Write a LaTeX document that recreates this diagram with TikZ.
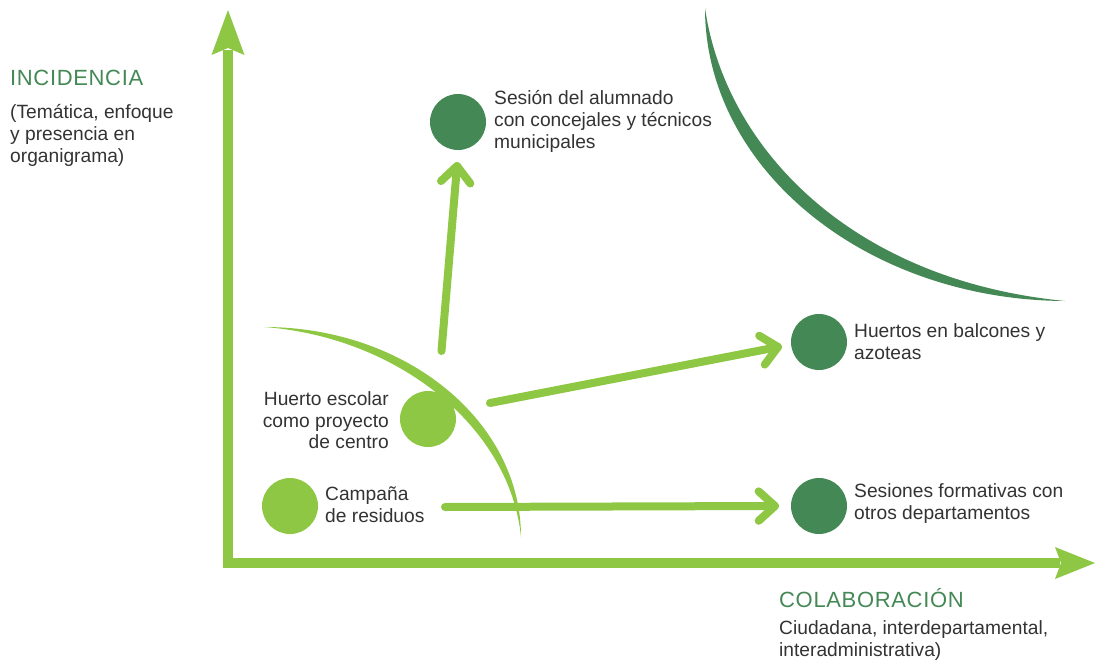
\documentclass[tikz,border=0pt]{standalone}
\usepackage{fontspec}
\setmainfont{Liberation Sans}
\usetikzlibrary{calc}
\definecolor{lgreen}{HTML}{8DC743}
\definecolor{dgreen}{HTML}{448855}
\definecolor{txtgray}{HTML}{333333}
\newfontfamily\headfont[LetterSpace=3]{Liberation Sans}
\begin{document}
\begin{tikzpicture}[x=1pt,y=-1pt,
  txt/.style={inner sep=0pt, text=txtgray, font=\fontsize{19.2}{23}\selectfont},
  head/.style={inner sep=0pt, text=dgreen, font=\headfont\fontsize{22}{26}\selectfont},
  dot/.style={circle, minimum size=56pt, inner sep=0pt},
  ldot/.style={dot, fill=lgreen},
  ddot/.style={dot, fill=dgreen},
  conn/.style={draw=lgreen, line width=8pt, line cap=round, line join=round},
  axisline/.style={draw=lgreen, line width=9.5pt, line join=miter},
  tipfill/.style={fill=lgreen}
]
\useasboundingbox (0,0) rectangle (1096,662);

% background curves
\fill[dgreen] (705,8) .. controls (705,169) and (866,300) .. (1065,301)
  .. controls (850,280) and (725,147) .. (705,8) -- cycle;
\fill[lgreen] (264,327) .. controls (406,327) and (521,421) .. (521,537)
  .. controls (510,427) and (398,337) .. (264,327) -- cycle;

% axes
\coordinate (org) at (228,563);
\coordinate (ytip) at (228,10);
\coordinate (xtip) at (1095,563);
\coordinate (ybase) at (228,50);
\coordinate (xbase) at (1060,563);
\draw[axisline] (ybase) -- (org) -- (xbase);
\fill[tipfill] (ytip) -- (244.5,55) -- (228,48) -- (211.5,55) -- cycle;
\fill[tipfill] (xtip) -- (1055,547) -- (1061,563) -- (1055,579) -- cycle;

% circles
\node[ddot] (c1) at (458,122) {};
\node[ddot] (c2) at (819,342) {};
\node[ddot] (c3) at (819,506) {};
\node[ldot] (c4) at (428,419) {};
\node[ldot] (c5) at (290,506) {};

% arrows
\coordinate (a1s) at (441.5,351);
\coordinate (a1e) at (457,166);
\coordinate (a2s) at (490,403);
\coordinate (a2e) at (778,347);
\coordinate (a3s) at (445,507);
\coordinate (a3e) at (775,506);
\foreach \s/\e in {a1s/a1e,a2s/a2e,a3s/a3e}{
  \draw[conn] (\s) -- (\e);
  \draw[conn] ($(\e)!22pt!42:(\s)$) -- (\e) -- ($(\e)!22pt!-42:(\s)$);
}

% texts
\node[head, anchor=base west] (inc) at (10,85) {INCIDENCIA};
\node[txt, anchor=base west] (inc1) at (10,118) {(Temática, enfoque};
\node[txt, anchor=base west] (inc2) at (10,140) {y presencia en};
\node[txt, anchor=base west] (inc3) at (10,162) {organigrama)};

\node[txt, anchor=base west] (s1) at (494,104) {Sesión del alumnado};
\node[txt, anchor=base west] (s2) at (494,126) {con concejales y técnicos};
\node[txt, anchor=base west] (s3) at (494,148) {municipales};

\node[txt, anchor=base west] (h1) at (854,337) {Huertos en balcones y};
\node[txt, anchor=base west] (h2) at (854,359) {azoteas};

\node[txt, anchor=base west] (f1) at (854,497) {Sesiones formativas con};
\node[txt, anchor=base west] (f2) at (854,519) {otros departamentos};

\node[txt, anchor=base east] (e1) at (389,405) {Huerto escolar};
\node[txt, anchor=base east] (e2) at (389,427) {como proyecto};
\node[txt, anchor=base east] (e3) at (389,448) {de centro};

\node[txt, anchor=base west] (r1) at (325,500) {Campaña};
\node[txt, anchor=base west] (r2) at (325,522) {de residuos};

\node[head, anchor=base west] (col) at (779,607) {COLABORACIÓN};
\node[txt, anchor=base west] (col1) at (779,634) {Ciudadana, interdepartamental,};
\node[txt, anchor=base west] (col2) at (779,656) {interadministrativa)};
\end{tikzpicture}
\end{document}
